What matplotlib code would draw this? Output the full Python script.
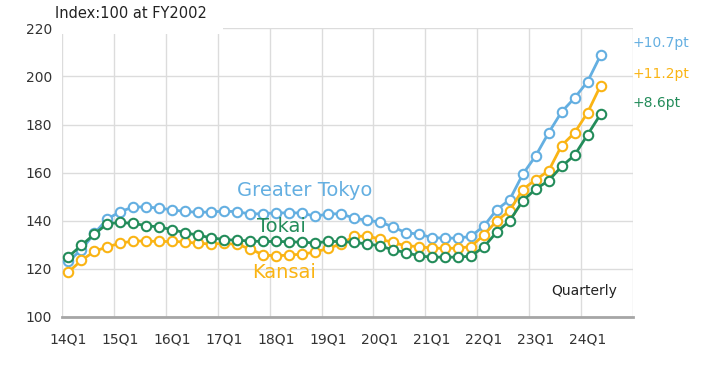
import matplotlib
matplotlib.use("Agg")
import matplotlib.pyplot as plt
from matplotlib.patches import Rectangle
import numpy as np

# ---- data ----
tick_labels = ["14Q1", "15Q1", "16Q1", "17Q1", "18Q1", "19Q1",
               "20Q1", "21Q1", "22Q1", "23Q1", "24Q1"]

greater_tokyo = [123.2, 128.0, 134.8, 140.8, 143.8, 145.8, 145.7, 145.3, 144.5, 143.9,
                 143.5, 143.7, 144.0, 143.8, 142.8, 143.0, 143.3, 143.3, 143.3, 141.8,
                 142.9, 142.9, 141.1, 140.2, 139.5, 137.5, 135.0, 134.5, 133.0, 132.8,
                 132.8, 133.5, 137.8, 144.6, 148.8, 159.3, 167.0, 176.6, 185.3, 191.1,
                 197.9, 208.8]
tokai = [125.1, 129.8, 134.5, 138.8, 139.3, 138.9, 138.0, 137.4, 136.3, 135.0,
         134.0, 132.9, 132.2, 131.9, 131.6, 131.4, 131.4, 131.3, 131.1, 130.8,
         131.4, 131.4, 131.0, 130.4, 129.6, 127.9, 126.8, 125.4, 124.9, 124.9,
         124.9, 125.3, 129.1, 135.3, 140.0, 148.3, 153.2, 156.7, 162.6, 167.3,
         175.8, 184.3]
kansai = [118.7, 123.6, 127.3, 129.2, 130.7, 131.6, 131.6, 131.4, 131.4, 131.2,
          130.6, 130.4, 130.6, 130.2, 128.3, 125.8, 125.4, 125.8, 126.1, 127.0,
          128.5, 130.4, 133.5, 133.7, 132.4, 131.0, 129.6, 129.3, 128.6, 128.6,
          128.6, 129.3, 134.0, 140.0, 144.2, 153.0, 157.1, 160.8, 171.3, 176.6,
          185.0, 196.2]

series_names = ["Greater Tokyo", "Tokai", "Kansai"]
changes = ["+10.7pt", "+11.2pt", "+8.6pt"]

c_blue = "#64afe1"
c_orange = "#fab414"
c_green = "#238c5a"

fig = plt.figure(figsize=(7.03, 3.67), dpi=100)
ax = fig.add_axes([62 / 703, 1 - 317 / 367, (633 - 62) / 703, (317 - 28.4) / 367])

x = np.arange(len(greater_tokyo))
for vals, col in [(greater_tokyo, c_blue), (kansai, c_orange), (tokai, c_green)]:
    ax.plot(x, vals, color=col, lw=2.0, marker="o", ms=6.8, mfc="white",
            mec=col, mew=1.5, zorder=3, clip_on=False)

ax.set_xlim(-0.5, 43.5)
ax.set_ylim(100, 220)
ax.set_yticks(np.arange(100, 221, 20))
ax.set_xticks(np.arange(0, 4 * len(tick_labels), 4))
ax.set_xticklabels(tick_labels)
ax.set_xticks(np.arange(-0.5, 44, 4), minor=True)
ax.tick_params(axis="both", which="both", length=0, labelsize=10, colors="#333333")
ax.tick_params(axis="x", pad=11)
ax.tick_params(axis="y", pad=7)
ax.grid(axis="y", which="major", color="#dcdcdc", lw=1.0, zorder=0)
ax.grid(axis="x", which="minor", color="#dcdcdc", lw=1.0, zorder=0)
ax.grid(axis="x", which="major", visible=False)
for s in ["left", "right", "top"]:
    ax.spines[s].set_visible(False)
ax.spines["bottom"].set_color("#a6a6a6")
ax.spines["bottom"].set_linewidth(2.0)

# series labels
ax.text(18.22, 152.4, series_names[0], color=c_blue, fontsize=14, ha="center", va="center")
ax.text(16.41, 137.8, series_names[1], color=c_green, fontsize=14, ha="center", va="center")
ax.text(16.6, 118.4, series_names[2], color=c_orange, fontsize=14, ha="center", va="center")

# change annotations on the right
for txt, yv, col in zip(changes, [213.9, 201.0, 189.0], [c_blue, c_orange, c_green]):
    ax.text(1.0, yv, txt, color=col, fontsize=10, ha="left", va="center",
            transform=ax.get_yaxis_transform(), clip_on=False)

ax.text(0.972, 0.09, "Quarterly", color="#222222", fontsize=10, ha="right", va="center",
        transform=ax.transAxes)

# white backing behind the title (covers the top grid segment)
fig.patches.append(Rectangle((61 / 703, 1 - 33.5 / 367), (223 - 61) / 703, 33.5 / 367,
                             transform=fig.transFigure, facecolor="white",
                             edgecolor="none", zorder=5))
fig.text(55 / 703, 1 - 14 / 367, "Index:100 at FY2002", color="#222222", fontsize=10.5,
         ha="left", va="center", zorder=10)

fig.savefig("out.png", dpi=100)
